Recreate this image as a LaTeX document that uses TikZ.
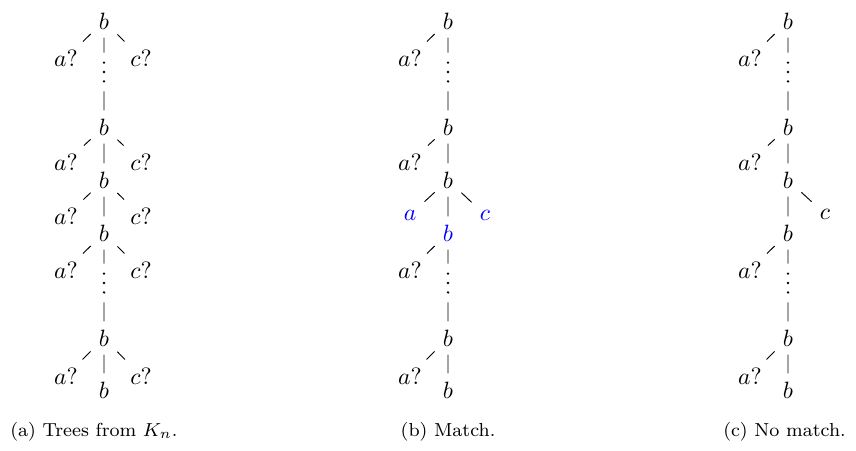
\documentclass[tikz,border=0pt]{standalone}
\usepackage{amsmath,amssymb}
\usepackage{tikz}
\usepackage{xcolor}

\begin{document}
\begin{tikzpicture}[x=0.424pt, y=-0.424pt, hit/.style={text=blue}, subcap/.style={font=\footnotesize},
  vd/.style={minimum height=16pt, minimum width=2pt, inner sep=0pt,
    path picture={\fill (path picture bounding box.center) circle (0.55pt) ++(0,4pt) circle (0.55pt) ++(0,-8pt) circle (0.55pt);}}]
\useasboundingbox (0,0) rectangle (856,450);
% (a) trees from K_n
\node (a1) at (104,21) {$b$};
\node (a1l) at (66,58) {$a?$};
\node (a1r) at (141,58) {$c?$};
\node[vd] (a1d) at (104,72) {};
\node (a2) at (104,127) {$b$};
\node (a2l) at (66,162) {$a?$};
\node (a2r) at (141,162) {$c?$};
\node (a3) at (104,180) {$b$};
\node (a3l) at (66,216) {$a?$};
\node (a3r) at (141,216) {$c?$};
\node (a4) at (104,233) {$b$};
\node (a4l) at (66,270) {$a?$};
\node (a4r) at (141,270) {$c?$};
\node[vd] (a4d) at (104,283) {};
\node (a5) at (104,338) {$b$};
\node (a5l) at (66,376) {$a?$};
\node (a5r) at (141,376) {$c?$};
\node (a6) at (104,390) {$b$};
\draw (a1) -- (a1l) (a1) -- (a1r) (a1) -- (a1d) -- (a2);
\draw (a2) -- (a2l) (a2) -- (a2r) (a2) -- (a3);
\draw (a3) -- (a3l) (a3) -- (a3r) (a3) -- (a4);
\draw (a4) -- (a4l) (a4) -- (a4r) (a4) -- (a4d) -- (a5);
\draw (a5) -- (a5l) (a5) -- (a5r) (a5) -- (a6);
\node[subcap, anchor=base west] (capa) at (2,436) {(a) Trees from $K_n$.};
% (b) match
\node (b1) at (448,21) {$b$};
\node (b1l) at (410,58) {$a?$};
\node[vd] (b1d) at (448,72) {};
\node (b2) at (448,127) {$b$};
\node (b2l) at (410,162) {$a?$};
\node (b3) at (448,180) {$b$};
\node[hit] (b3l) at (410,215) {$a$};
\node[hit] (b3r) at (485,215) {$c$};
\node[hit] (b4) at (448,233) {$b$};
\node (b4l) at (410,270) {$a?$};
\node[vd] (b4d) at (448,283) {};
\node (b5) at (448,338) {$b$};
\node (b5l) at (410,376) {$a?$};
\node (b6) at (448,390) {$b$};
\draw (b1) -- (b1l) (b1) -- (b1d) -- (b2);
\draw (b2) -- (b2l) (b2) -- (b3);
\draw (b3) -- (b3l) (b3) -- (b3r) (b3) -- (b4);
\draw (b4) -- (b4l) (b4) -- (b4d) -- (b5);
\draw (b5) -- (b5l) (b5) -- (b6);
\node[subcap, anchor=base] (capb) at (448,436) {(b) Match.};
% (c) no match
\node (c1) at (788,21) {$b$};
\node (c1l) at (750,58) {$a?$};
\node[vd] (c1d) at (788,72) {};
\node (c2) at (788,127) {$b$};
\node (c2l) at (750,162) {$a?$};
\node (c3) at (788,180) {$b$};
\node (c3r) at (825,214) {$c$};
\node (c4) at (788,233) {$b$};
\node (c4l) at (750,270) {$a?$};
\node[vd] (c4d) at (788,283) {};
\node (c5) at (788,338) {$b$};
\node (c5l) at (750,376) {$a?$};
\node (c6) at (788,390) {$b$};
\draw (c1) -- (c1l) (c1) -- (c1d) -- (c2);
\draw (c2) -- (c2l) (c2) -- (c3);
\draw (c3) -- (c3r) (c3) -- (c4);
\draw (c4) -- (c4l) (c4) -- (c4d) -- (c5);
\draw (c5) -- (c5l) (c5) -- (c6);
\node[subcap, anchor=base east] (capc) at (854,436) {(c) No match.};
\end{tikzpicture}
\end{document}
